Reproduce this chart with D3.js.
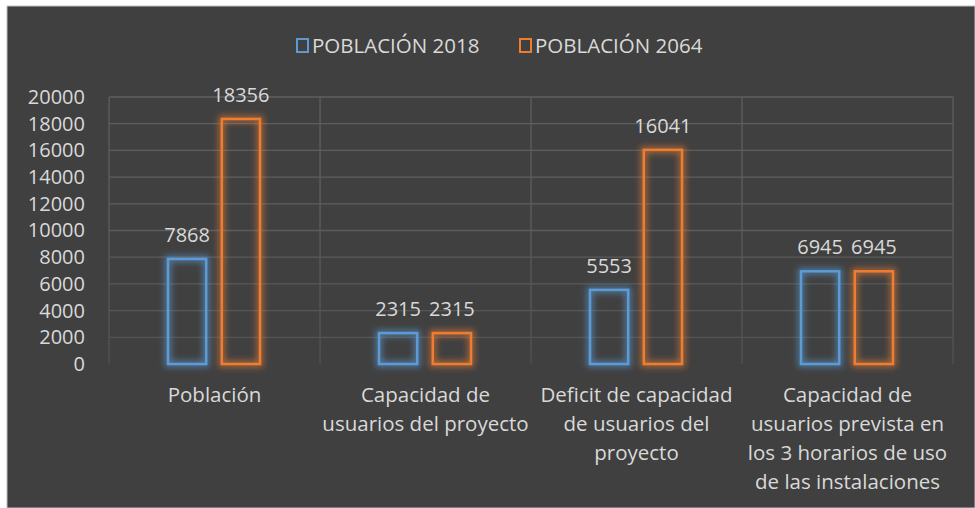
<!DOCTYPE html>
<html>
<head>
<meta charset="utf-8">
<script src="https://cdn.jsdelivr.net/npm/d3@7"></script>
<style>
  body { margin: 0; background: #fff; }
  svg { display: block; }
  text { font-family: "Open Sans", sans-serif; }
</style>
</head>
<body>
<div id="chart-area"></div>
<script>
// data
var categories = ["Población", "Capacidad de usuarios del proyecto", "Deficit de capacidad de usuarios del proyecto", "Capacidad de usuarios prevista en los 3 horarios de uso de las instalaciones"]
var categoryLines = [
  ["Población"],
  ["Capacidad de", "usuarios del proyecto"],
  ["Deficit de capacidad", "de usuarios del", "proyecto"],
  ["Capacidad de", "usuarios prevista en", "los 3 horarios de uso", "de las instalaciones"]
]
var seriesNames = ["POBLACIÓN 2018", "POBLACIÓN 2064"]
var pop2018 = [7868, 2315, 5553, 6945]
var pop2064 = [18356, 2315, 16041, 6945]
var yTicks = [0, 2000, 4000, 6000, 8000, 10000, 12000, 14000, 16000, 18000, 20000]
var colors = ["#5b9bd5", "#ed7d31"]

var width = 975
var height = 508
var margin = {top: 97, right: 22, bottom: 144, left: 109}
var innerW = width - margin.left - margin.right
var innerH = height - margin.top - margin.bottom

var svg = d3.select("#chart-area").append("svg")
  .attr("width", width)
  .attr("height", height)

var defs = svg.append("defs")

// soft glow round the bar outlines
var glow = defs.append("filter")
  .attr("id", "glow")
  .attr("x", "-40%").attr("y", "-40%")
  .attr("width", "180%").attr("height", "180%")
glow.append("feMorphology")
  .attr("in", "SourceGraphic")
  .attr("operator", "dilate")
  .attr("radius", 1.5)
  .attr("result", "thick")
glow.append("feGaussianBlur")
  .attr("in", "thick")
  .attr("stdDeviation", 3)
  .attr("result", "blur")
glow.append("feComponentTransfer")
  .attr("in", "blur")
  .attr("result", "soft")
  .append("feFuncA").attr("type", "linear").attr("slope", 0.6)
var merge = glow.append("feMerge")
merge.append("feMergeNode").attr("in", "soft")
merge.append("feMergeNode").attr("in", "SourceGraphic")

var grad = defs.append("linearGradient")
  .attr("id", "gridfade")
  .attr("gradientUnits", "userSpaceOnUse")
  .attr("x1", 0).attr("x2", 0)
  .attr("y1", margin.top).attr("y2", margin.top + innerH)
grad.append("stop").attr("offset", "0%").attr("stop-color", "#5e5e5e")
grad.append("stop").attr("offset", "55%").attr("stop-color", "#545454")
grad.append("stop").attr("offset", "100%").attr("stop-color", "#404040")

// background
svg.append("rect")
  .attr("x", 7).attr("y", 6)
  .attr("width", width - 7).attr("height", height - 6)
  .attr("fill", "#404040")
  .attr("stroke", "#bfbfbf")
  .attr("stroke-width", 1)

var g = svg.append("g")
  .attr("transform", "translate(" + margin.left + ", " + margin.top + ")")

var x0 = d3.scaleBand()
  .domain(categories)
  .range([0, innerW])

var x1 = d3.scaleBand()
  .domain(seriesNames)
  .range([59, 151])
  .paddingInner(0.29)

var y = d3.scaleLinear()
  .domain([0, 20000])
  .range([innerH, 0])

// gridlines
g.append("g")
  .selectAll("line")
  .data(yTicks.filter(d => d > 0))
  .enter().append("line")
  .attr("x1", 0).attr("x2", innerW)
  .attr("y1", d => y(d)).attr("y2", d => y(d))
  .attr("stroke", "url(#gridfade)")
  .attr("stroke-width", 1.3)

g.append("g")
  .selectAll("rect")
  .data(categories.map(c => x0(c)).concat([innerW]))
  .enter().append("rect")
  .attr("x", d => d - 0.6)
  .attr("width", 1.3)
  .attr("y", 0)
  .attr("height", innerH)
  .attr("fill", "url(#gridfade)")

// Y axis
var yAxisCall = d3.axisLeft(y)
  .tickValues(yTicks)
  .tickFormat(d3.format("d"))
  .tickSize(0)
  .tickPadding(24)
var yAxisGroup = g.append("g").call(yAxisCall)
yAxisGroup.select(".domain").remove()
yAxisGroup.selectAll("text")
  .attr("font-size", "20px")
  .attr("font-family", "Open Sans")
  .attr("fill", "#d9d9d9")

// X axis, one text per wrapped line
var xAxisCall = d3.axisBottom(x0).tickSize(0).tickFormat("")
var xAxisGroup = g.append("g")
  .attr("transform", "translate(0, " + innerH + ")")
  .call(xAxisCall)
xAxisGroup.select(".domain").remove()
xAxisGroup.selectAll(".tick text").remove()
xAxisGroup.selectAll(".tick").each(function(d, i) {
  d3.select(this).selectAll("text.lbl")
    .data(categoryLines[i])
    .enter().append("text")
    .attr("class", "lbl")
    .attr("x", 0)
    .attr("y", (l, j) => 38 + j * 29)
    .attr("fill", "#d9d9d9")
    .attr("font-size", "20.5px")
    .attr("font-family", "Open Sans")
    .attr("text-anchor", "middle")
    .text(l => l)
})

// bars
var rows = categories.map((c, i) => ({cat: c, values: [pop2018[i], pop2064[i]]}))

var groups = g.selectAll("g.cat")
  .data(rows)
  .enter().append("g")
  .attr("class", "cat")
  .attr("transform", d => "translate(" + x0(d.cat) + ",0)")

groups.selectAll("rect")
  .data(d => d.values.map((v, k) => ({name: seriesNames[k], value: v, k: k})))
  .enter().append("rect")
  .attr("x", d => x1(d.name))
  .attr("y", d => y(d.value))
  .attr("width", x1.bandwidth())
  .attr("height", d => innerH - y(d.value))
  .attr("fill", "none")
  .attr("stroke", d => colors[d.k])
  .attr("stroke-width", 2.5)
  .attr("filter", "url(#glow)")

groups.selectAll("text.val")
  .data(d => d.values.map((v, k) => ({name: seriesNames[k], value: v, k: k})))
  .enter().append("text")
  .attr("class", "val")
  .attr("x", d => x1(d.name) + x1.bandwidth() / 2)
  .attr("y", d => y(d.value) - 17)
  .attr("text-anchor", "middle")
  .attr("font-size", "20px")
  .attr("fill", "#d9d9d9")
  .text(d => d.value)

// legend
var legendX = [297, 520]
var legend = svg.append("g")
seriesNames.forEach((s, k) => {
  legend.append("rect")
    .attr("x", legendX[k]).attr("y", 39)
    .attr("width", 11).attr("height", 13)
    .attr("fill", "none")
    .attr("stroke", colors[k])
    .attr("stroke-width", 2)
  legend.append("text")
    .attr("x", legendX[k] + 15)
    .attr("y", 53)
    .attr("font-size", "20.5px")
    .attr("fill", "#d9d9d9")
    .text(s)
})
</script>
</body>
</html>
